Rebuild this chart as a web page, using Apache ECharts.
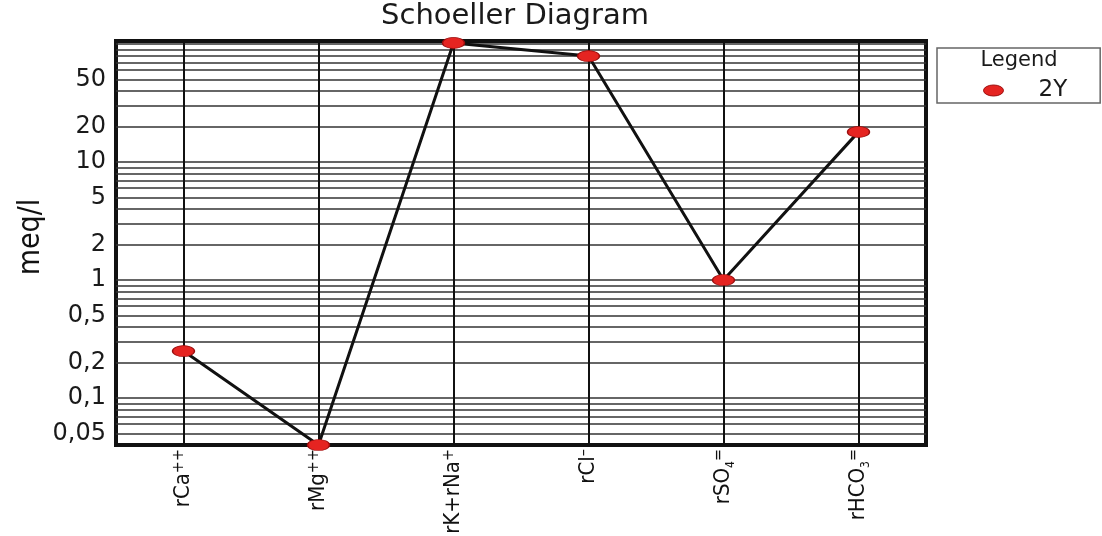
<!DOCTYPE html>
<html><head><meta charset="utf-8">
<script src="https://cdn.jsdelivr.net/npm/echarts@6/dist/echarts.min.js"></script>
<style>html,body{margin:0;padding:0;background:#fff}#c{width:1102px;height:536px}</style>
</head><body><div id="c"></div>
<script>
const categories = ['rCa', 'rMg', 'rK+rNa', 'rCl', 'rSO4', 'rHCO3'];
const labelMain = ['rCa', 'rMg', 'rK+rNa', 'rCl', 'rSO', 'rHCO'];
const labelSub = ['', '', '', '', '4', '3'];
const labelSup = ['++', '++', '+', '–', '=', '='];
const values2Y = [0.25, 0.04, 102, 79, 1.0, 18];
const tickValues = [50, 20, 10, 5, 2, 1, 0.5, 0.2, 0.1, 0.05];
const tickLabels = ['50', '20', '10', '5', '2', '1', '0,5', '0,2', '0,1', '0,05'];
const gridValues = [0.05, 0.06, 0.07, 0.08, 0.09, 0.1, 0.2, 0.3, 0.4, 0.5, 0.6, 0.7, 0.8, 0.9,
  1, 2, 3, 4, 5, 6, 7, 8, 9, 10, 20, 30, 40, 50, 60, 70, 80, 90, 100];

const WIDE = 'DejaVu Sans, Verdana, sans-serif';
const NARROW = 'Liberation Sans Narrow, DejaVu Sans Condensed, Arial Narrow, sans-serif';
const ELLIPSE = 'path://M0,5.5a10,5.5 0 1,0 20,0a10,5.5 0 1,0 -20,0z';

const hLines = gridValues.map(v => {
  const k = tickValues.findIndex(t => Math.abs(t - v) < 1e-9);
  const item = { yAxis: v, lineStyle: { color: '#333', width: 1.5, type: 'solid' } };
  if (k >= 0) {
    item.label = { show: true, position: 'start', formatter: tickLabels[k], distance: 10,
      fontSize: 24, fontFamily: WIDE, color: '#1a1a1a' };
  } else {
    item.label = { show: false };
  }
  return item;
});
const vLines = categories.map(c => ({ xAxis: c, lineStyle: { color: '#111', width: 2, type: 'solid' }, label: { show: false } }));

function catLabel(v, i) {
  let s = '{m|' + labelMain[i] + '}';
  if (labelSub[i]) s += '{sub|' + labelSub[i] + '}';
  if (labelSup[i]) s += '{sup|' + labelSup[i] + '}';
  return s;
}

const chart = echarts.init(document.getElementById('c'));
chart.setOption({
  animation: false,
  backgroundColor: '#fff',
  title: [
    { text: 'Schoeller Diagram', left: 515, top: 2, textAlign: 'center', padding: 0,
      textStyle: { fontSize: 29, fontWeight: 'normal', fontFamily: WIDE, color: '#1a1a1a' } },
    { text: 'Legend', left: 1019, top: 50, textAlign: 'center', padding: 0,
      textStyle: { fontSize: 21, fontWeight: 'normal', fontFamily: WIDE, color: '#1a1a1a' } }
  ],
  legend: {
    data: ['2Y'], left: 937, top: 48, orient: 'vertical',
    icon: ELLIPSE, itemWidth: 20, itemHeight: 11, symbolKeepAspect: false,
    padding: [31, 33, 1, 46], borderColor: '#666', borderWidth: 1.5,
    itemStyle: { borderColor: '#9b0d0d', borderWidth: 1 },
    formatter: name => '{a|' + name + '}',
    textStyle: { rich: { a: { fontSize: 23, fontFamily: WIDE, color: '#1a1a1a', padding: [0, 0, 0, 30] } } }
  },
  grid: { left: 116, right: 176, top: 41, bottom: 91, show: true, borderColor: '#111', borderWidth: 4,
    outerBoundsMode: 'none', containLabel: false },
  xAxis: {
    type: 'category', data: categories, boundaryGap: true,
    axisLine: { show: false }, axisTick: { show: false }, splitLine: { show: false },
    axisLabel: {
      interval: 0, rotate: 90, margin: 4,
      formatter: catLabel,
      rich: {
        m: { fontSize: 22, fontFamily: NARROW, color: '#111', lineHeight: 26 },
        sup: { fontSize: 16, fontFamily: NARROW, color: '#111', lineHeight: 13, verticalAlign: 'top' },
        sub: { fontSize: 12, fontFamily: NARROW, color: '#111', lineHeight: 12, verticalAlign: 'bottom' }
      }
    }
  },
  yAxis: {
    type: 'log', logBase: 10, min: 0.04, max: 106,
    axisLabel: { show: false }, axisTick: { show: false }, axisLine: { show: false }, splitLine: { show: false },
    name: 'meq/l', nameLocation: 'middle', nameRotate: 90, nameGap: 70,
    nameTextStyle: { fontSize: 30, fontFamily: NARROW, color: '#111', padding: [0, 0, 0, 12] }
  },
  series: [
    { name: 'grid', type: 'line', data: [], silent: true, z: 1,
      markLine: { silent: true, symbol: ['none', 'none'], animation: false, data: hLines.concat(vLines) } },
    { name: '2Y', type: 'line', data: values2Y, z: 5,
      symbol: 'circle', symbolSize: [22, 11],
      itemStyle: { color: '#e52421', borderColor: '#9b0d0d', borderWidth: 1 },
      lineStyle: { color: '#111', width: 3 } }
  ]
});
</script></body></html>
